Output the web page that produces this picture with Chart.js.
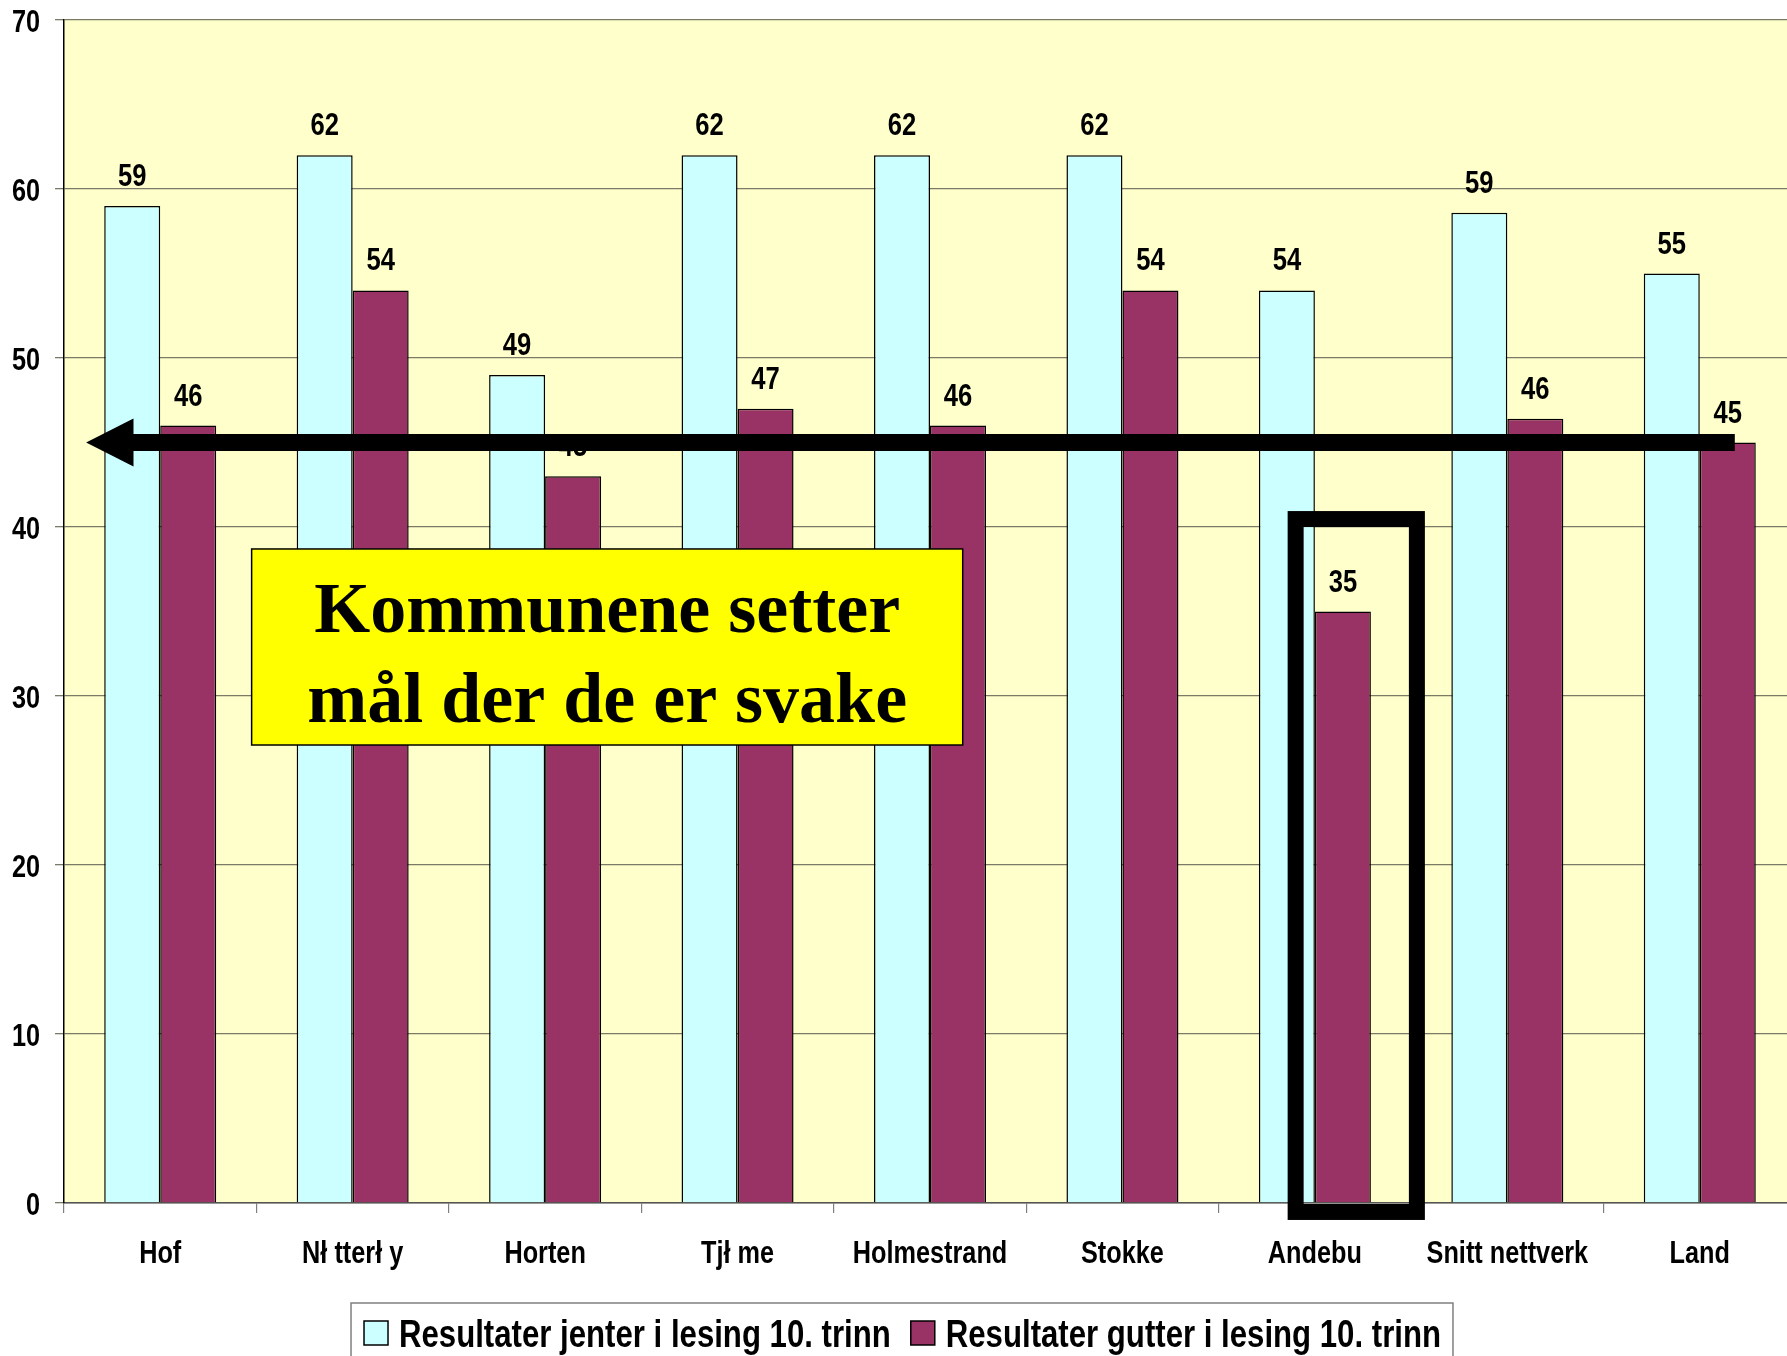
<!DOCTYPE html>
<html><head><meta charset="utf-8">
<script src="https://cdn.jsdelivr.net/npm/chart.js@4.4.1/dist/chart.umd.min.js"></script>
<style>html,body{margin:0;padding:0;background:#fff;overflow:hidden;} canvas{display:block;}</style>
</head><body>
<canvas id="c" width="1800" height="1370" style="width:1800px;height:1370px"></canvas>
<script>
// ---- data ----
const categories = ["Hof", "Nł tterł y", "Horten", "Tjł me", "Holmestrand", "Stokke", "Andebu", "Snitt nettverk", "Land"];
const girlsValues = [59, 62, 49, 62, 62, 62, 54, 58.6, 55];
const boysValues = [46, 54, 43, 47, 46, 54, 35, 46.4, 45];
const seriesNames = ["Resultater jenter i lesing 10. trinn", "Resultater gutter i lesing 10. trinn"];
const yTickValues = [0, 10, 20, 30, 40, 50, 60, 70];
const calloutLines = ["Kommunene setter", "mål der de er svake"];
const arrowLevel = 45;

// ---- annotation geometry (category units relative to first category centre, y in data units) ----
const ARROW = { tip: -0.385, headBase: -0.139, end: 8.182, shaft: 17, headHalf: 24 };
const CALLOUT = { x0: 0.475, x1: 4.17, y0: 38.7, y1: 27.1 };
const HIGHLIGHT = { x0: 5.90, x1: 6.53, y0: 40.47, y1: -0.53, width: 16 };

const SANS = '"Liberation Sans",Arial,sans-serif';
const SX = 0.79; // horizontal condensing (Arial Narrow look)

function narrowText(ctx, text, x, y, size, align, sx) {
  ctx.save();
  ctx.font = 'bold ' + size + 'px ' + SANS;
  ctx.textAlign = align;
  ctx.textBaseline = 'alphabetic';
  ctx.fillStyle = '#000';
  ctx.translate(x, y);
  ctx.scale(sx || SX, 1);
  ctx.fillText(text, 0, 0);
  ctx.restore();
}
function narrowWidth(ctx, text, size, sx) {
  ctx.save();
  ctx.font = 'bold ' + size + 'px ' + SANS;
  const w = ctx.measureText(text).width * (sx || SX);
  ctx.restore();
  return w;
}

const plotBg = {
  id: 'plotBg',
  beforeDraw(chart) {
    const { ctx, chartArea: a } = chart;
    ctx.save();
    ctx.fillStyle = '#FFFFCC';
    ctx.fillRect(a.left, a.top, a.right - a.left, a.bottom - a.top);
    ctx.restore();
  }
};

const axisText = {
  id: 'axisText',
  afterDraw(chart) {
    const { ctx, scales: { x, y }, chartArea: a } = chart;
    y.ticks.forEach(t => {
      narrowText(ctx, String(t.value), a.left - 24, y.getPixelForValue(t.value) + 12, 32, 'right');
    });
    categories.forEach((c, i) => {
      narrowText(ctx, c, x.getPixelForValue(i), a.bottom + 60, 32, 'center');
    });
  }
};

const valueLabels = {
  id: 'valueLabels',
  afterDatasetsDraw(chart) {
    const ctx = chart.ctx;
    chart.data.datasets.forEach((ds, i) => {
      chart.getDatasetMeta(i).data.forEach((bar, j) => {
        narrowText(ctx, String(Math.round(ds.data[j])), bar.x, bar.y - 20, 32, 'center', 0.8);
      });
    });
  }
};

const annotations = {
  id: 'annotations',
  afterDraw(chart) {
    const { ctx, scales: { x, y }, chartArea: a } = chart;
    const c0 = x.getPixelForValue(0);
    const cw = x.getPixelForValue(1) - c0;
    const px = v => c0 + v * cw;
    ctx.save();
    // arrow
    const ay = y.getPixelForValue(arrowLevel);
    const tip = px(ARROW.tip), base = px(ARROW.headBase), end = px(ARROW.end);
    ctx.fillStyle = '#000';
    ctx.fillRect(base - 1, ay - ARROW.shaft / 2, end - base + 1, ARROW.shaft);
    ctx.beginPath();
    ctx.moveTo(tip, ay);
    ctx.lineTo(base, ay - ARROW.headHalf);
    ctx.lineTo(base, ay + ARROW.headHalf);
    ctx.closePath();
    ctx.fill();
    // callout box
    const bx0 = px(CALLOUT.x0), bx1 = px(CALLOUT.x1);
    const by0 = y.getPixelForValue(CALLOUT.y0), by1 = y.getPixelForValue(CALLOUT.y1);
    ctx.fillStyle = '#FFFF00';
    ctx.fillRect(bx0, by0, bx1 - bx0, by1 - by0);
    ctx.strokeStyle = '#000';
    ctx.lineWidth = 1.5;
    ctx.strokeRect(bx0, by0, bx1 - bx0, by1 - by0);
    ctx.fillStyle = '#000';
    ctx.font = 'bold 72px "Liberation Serif","Times New Roman",serif';
    ctx.textAlign = 'center';
    ctx.textBaseline = 'alphabetic';
    const cx = (bx0 + bx1) / 2, cy = (by0 + by1) / 2;
    ctx.fillText(calloutLines[0], cx, cy - 15);
    ctx.fillText(calloutLines[1], cx, cy + 75);
    // highlight rectangle
    const hx0 = px(HIGHLIGHT.x0), hx1 = px(HIGHLIGHT.x1);
    const hy0 = y.getPixelForValue(HIGHLIGHT.y0), hy1 = y.getPixelForValue(HIGHLIGHT.y1);
    ctx.strokeStyle = '#000';
    ctx.lineWidth = HIGHLIGHT.width;
    ctx.lineJoin = 'miter';
    ctx.strokeRect(hx0, hy0, hx1 - hx0, hy1 - hy0);
    ctx.restore();

    // legend
    const LS = 38, LSX = 0.82, box = 24, gapText = 11, gapItem = 20, padL = 13, padR = 12;
    const items = chart.data.datasets.map(ds => ({ label: ds.label, color: ds.backgroundColor, w: narrowWidth(ctx, ds.label, LS, LSX) }));
    let total = padL + padR;
    items.forEach((it, i) => { total += box + gapText + it.w + (i < items.length - 1 ? gapItem : 0); });
    const lx0 = chart.width / 2 - total / 2 + 2;
    const ltop = a.bottom + 100;
    const base0 = a.bottom + 144;
    ctx.save();
    ctx.strokeStyle = '#808080';
    ctx.lineWidth = 1.5;
    ctx.strokeRect(lx0, ltop, total, chart.height + 20 - ltop);
    let cxp = lx0 + padL;
    items.forEach(it => {
      ctx.fillStyle = it.color;
      ctx.fillRect(cxp, base0 - 26, box, box);
      ctx.strokeStyle = '#000';
      ctx.lineWidth = 1.5;
      ctx.strokeRect(cxp, base0 - 26, box, box);
      cxp += box + gapText;
      narrowText(ctx, it.label, cxp, base0, LS, 'left', LSX);
      cxp += it.w + gapItem;
    });
    ctx.restore();
  }
};

new Chart(document.getElementById('c'), {
  type: 'bar',
  data: {
    labels: categories,
    datasets: [
      { label: seriesNames[0], data: girlsValues, backgroundColor: '#CCFFFF', borderColor: '#000', borderWidth: 1.5 },
      { label: seriesNames[1], data: boysValues, backgroundColor: '#993366', borderColor: '#000', borderWidth: 1.5 }
    ]
  },
  options: {
    responsive: false,
    animation: false,
    devicePixelRatio: 1,
    categoryPercentage: 0.582,
    barPercentage: 1.0,
    layout: { padding: { top: 20, left: 0, right: 4, bottom: 7 } },
    plugins: {
      tooltip: { enabled: false },
      legend: { display: false }
    },
    scales: {
      x: {
        afterFit(s) { s.height = 160; },
        grid: { display: true, drawOnChartArea: false, drawTicks: true, tickLength: 10, color: '#808080', lineWidth: 1.2 },
        border: { display: true, color: '#555', width: 1.5 },
        ticks: { display: false }
      },
      y: {
        min: yTickValues[0],
        max: yTickValues[yTickValues.length - 1],
        afterFit(s) { s.width = 64; },
        afterBuildTicks(s) { s.ticks = yTickValues.map(v => ({ value: v })); },
        grid: { color: '#7a7a66', lineWidth: 1.3, tickLength: 9 },
        border: { display: true, color: '#000', width: 1.5 },
        ticks: { display: false }
      }
    }
  },
  plugins: [plotBg, valueLabels, axisText, annotations]
});
</script>
</body></html>
